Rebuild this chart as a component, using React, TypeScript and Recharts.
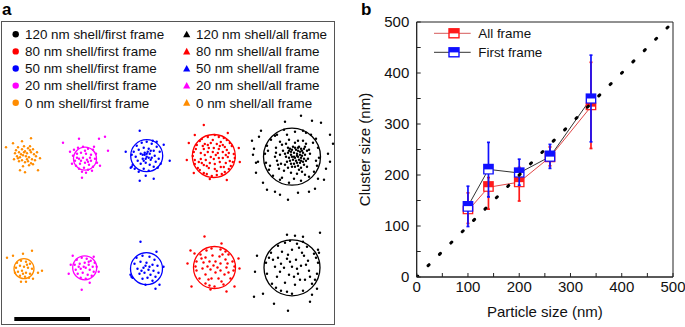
import React from "react";
import {
  ComposedChart,
  ScatterChart,
  Scatter,
  Line,
  XAxis,
  YAxis,
  ErrorBar,
  ReferenceArea,
  ReferenceLine,
  Legend,
} from "recharts";

const FONT = '"Liberation Sans", Arial, Helvetica, sans-serif';

// ---------------- panel b: cluster size vs particle size ----------------
const particleSize = [100, 140, 200, 260, 340];

// All frame (nm)
const allMin = [105, 133, 149, 218, 252];
const allQ1 = [123, 167, 176, 225, 327];
const allMed = [130, 176, 186, 235, 334];
const allQ3 = [140, 188, 196, 245, 342];
const allMax = [165, 195, 215, 255, 421];

// First frame (nm)
const firstMin = [99, 157, 180, 213, 265];
const firstQ1 = [128, 201, 195, 226, 340];
const firstMed = [139, 211, 204, 236, 350];
const firstQ3 = [149, 222, 215, 248, 360];
const firstMax = [178, 264, 231, 260, 435];

// dotted 1:1 guide
const guideX = [0, 500];
const guideY = [0, 500];

const axisTicks = [0, 50, 100, 150, 200, 250, 300, 350, 400, 450, 500];

// ---------------- panel a: localisation clusters ----------------
const legendShells = ["120", "80", "50", "20", "0"];
const legendColors = ["#000000", "#ff0000", "#0000ff", "#ff00ff", "#ff8c00"];

// clusters left to right: 0, 20, 50, 80, 120 nm shell
const clusterColors = ["#ff8c00", "#ff00ff", "#0000ff", "#ff0000", "#000000"];
const allFrameCx = [24, 84, 145.7, 212.8, 291];
const allFrameCy = [134.3, 137.7, 134.7, 135, 135.7];
const allFrameRing = [0, 11.5, 16, 21.5, 28.5];
const firstFrameCx = [23, 83.7, 145.5, 213.5, 291];
const firstFrameCy = [247.7, 246.8, 247.7, 246.5, 246.8];
const firstFrameRing = [10, 12, 16, 21, 28];

const dots0All = [
  [-19, -8], [6, -17], [15, 3], [13, 15], [0, 17], [-5, 15], [-12, -12], [-3, -14], [-9, -5], [-6, -3],
  [-3, -6], [0, -4], [3, -7], [6, -3], [9, -1], [-8, 1], [-5, 2], [-2, 0], [1, 1], [4, 2],
  [7, 4], [10, 5], [-6, 6], [-3, 5], [0, 7], [3, 6], [6, 8], [-10, -2], [-1, -9], [2, -2],
  [5, -5], [-4, -1], [8, -6], [11, 1], [-7, -8], [12, -3], [-11, 4], [4, 10], [-2, 11], [8, 9],
  [-1, -3], [2, 4], [-7, 3], [5, -9],
];
const dots20All = [
  [-22, -16], [-6, -20], [14, -20], [20, -22], [23, -8], [-3, 19], [-15, -7], [15, 7],
  [-11, -9], [-7, -11], [-2, -12], [3, -10], [8, -9], [11, -5], [-12, -3], [-8, -5], [-4, -6], [1, -5],
  [6, -4], [10, 0], [-10, 2], [-6, 0], [-2, -1], [2, 1], [6, 2], [12, 4], [-9, 7], [-5, 5],
  [0, 4], [4, 6], [8, 8], [-6, 10], [-1, 9], [3, 11], [7, 12], [-3, 13], [1, 14], [-13, 5],
  [9, -12], [-4, 2], [0, -8], [5, -1], [-8, -1], [3, 3],
];
const dots50All = [
  [-7, -25], [17, -11], [-21, -4], [23, 5], [-7, 25], [7, 23], [-15, 11], [-14, 9], [-1, 20], [-16, 12],
  [-12, 13], [-10, -10], [-5, -13], [0, -14], [5, -12], [10, -9], [13, -4], [-13, -4], [-8, -6], [-3, -8],
  [2, -7], [7, -5], [-11, 1], [-6, -2], [-2, -3], [3, -2], [8, 0], [12, 3], [-9, 5], [-4, 3],
  [0, 1], [4, 4], [9, 6], [-6, 8], [-1, 7], [3, 9], [7, 11], [-3, 13], [2, 15], [11, 12],
  [-2, -1], [1, -4], [-4, -1], [5, 2], [-1, 3], [14, 8], [-15, -1], [6, -15], [-8, 16], [10, -14],
  [0, -2], [2, 2], [-3, 5], [4, -5],
];
const dots80All = [
  [-10, -31], [14, -23], [25, -8], [26, 6], [13, 24], [-4, 23], [-20, 17], [-27, 4], [-25, -13], [-19, -21],
  [-6, -19], [5, -19], [13, -16], [18, -10], [20, -2], [19, 6], [15, 13], [8, 18], [-2, 20], [-10, 17],
  [-16, 12], [-19, 4], [-20, -4], [-17, -11], [-12, -17], [1, -21], [10, -18], [16, -13], [21, 2], [17, 10],
  [11, 16], [3, 19], [-7, 18], [-14, 14], [-19, 8], [-21, 0], [-18, -7], [-14, -15],
  [-9, -12], [-3, -13], [3, -12], [9, -11], [13, -6], [14, 1], [12, 7], [7, 11], [1, 13], [-5, 12],
  [-10, 9], [-13, 3], [-13, -3], [-10, -7], [-5, -8], [0, -8], [5, -7], [9, -4], [9, 2], [6, 6],
  [1, 8], [-4, 7], [-8, 4], [-9, -1], [-6, -4], [-1, -4], [4, -3], [5, 2], [0, 3], [-3, 1],
  [2, -1], [-11, -10], [11, -9], [15, -3], [10, 11], [-7, 10], [7, -14], [-1, -16], [3, 15], [-15, 6],
  [16, 5], [-6, -11], [12, -1], [-12, 7], [6, -10],
];
const dots120All = [
  [9, -41], [29, -34], [-7, -35], [-40, -16], [41, -13], [36, -3], [-34, 5], [-36, 6], [-36, 16], [-29, 26],
  [-25, 33], [-17, 35], [-4, 43], [17, 35], [26, 22], [32, 23], [23, 32], [-38, -8], [-33, -20], [38, -22],
  [34, 12], [-31, -26], [20, -36], [-12, 38], [6, 36], [38, 5], [-39, -2],
  [-8, -27], [3, -25], [11, -26], [-15, -22], [19, -22], [-21, -17], [24, -18], [-25, -11], [26, -9], [-27, -3],
  [27, 1], [-26, 6], [25, 9], [-23, 13], [22, 15], [-19, 19], [17, 20], [-12, 23], [9, 24], [-3, 26],
  [2, 22], [-17, -21], [14, -24], [-24, -6], [-22, 9], [21, -14], [24, 4], [-10, 21], [13, 18], [-5, -22],
  [-12, -15], [-3, -17], [6, -16], [14, -13], [-16, -9], [17, -7], [-17, 0], [16, 2], [-14, 8], [15, 10],
  [-8, 14], [-1, 16], [7, 13], [-10, -12], [11, -16], [-15, 4], [12, 8], [-6, -13], [3, -14], [-13, 12],
  [10, 15], [-16, -4], [18, -3], [5, 17], [-4, 11], [-11, 7], [13, -10], [-9, -6], [-12, -2], [9, 11],
  [0, -7], [3, -9], [6, -6], [9, -8], [11, -4], [8, -2], [5, -3], [2, -4], [-1, -2], [-4, -4],
  [-6, 0], [-3, 1], [0, 0], [3, 1], [6, 0], [9, 1], [12, 2], [10, -1], [7, 3], [4, 4],
  [1, 3], [-2, 4], [-5, 5], [-1, 7], [2, 7], [5, 6], [8, 6], [11, 5], [13, -2], [7, -10],
  [4, -7], [1, -10], [-2, -8], [-4, -9], [10, -6], [12, -8], [-7, -3], [-3, -6], [6, 9], [3, 10],
  [0, 10], [-7, 8], [14, 4], [15, -6], [8, -5], [5, -1], [2, 0], [-1, -5], [6, -9], [9, 4],
];

const dots0First = [
  [-17, -11], [8, -18], [-1, -15], [18, 2], [14, 4], [-3, 13], [2, 13], [9, 10], [-11, -13],
  [-7, -6], [-3, -8], [2, -7], [6, -5], [-8, -1], [-4, -3], [0, -2], [4, -1], [8, 0], [-6, 3],
  [-2, 2], [2, 4], [6, 5], [-4, 7], [1, 8], [5, 9], [-9, 4], [3, -4], [-1, 5],
];
const dots20First = [
  [-12, -12], [9, -11], [-16, 6], [-3, 22], [14, 4], [12, -1], [-14, -3], [5, 15],
  [-8, -8], [-3, -10], [2, -9], [6, -7], [10, -5], [-10, -3], [-5, -4], [0, -5], [4, -3], [8, -1],
  [-9, 2], [-4, 1], [1, 0], [5, 2], [9, 4], [-7, 6], [-2, 5], [3, 7], [7, 8], [-4, 10],
  [1, 11], [-1, -1], [-6, -1], [4, -6],
];
const dots50First = [
  [-6, -27], [10, -17], [-15, 8], [9, 20], [-1, 16], [17, -2], [-16, 6], [-14, 9], [13, 16],
  [-10, -11], [-4, -13], [3, -12], [8, -9], [-12, -5], [-6, -7], [0, -6], [6, -4], [11, -3], [-9, 0],
  [-3, -1], [2, 1], [7, 2], [12, 4], [-7, 5], [-2, 4], [4, 6], [9, 8], [-4, 10], [1, 9],
  [6, 12], [-1, -3], [3, -2], [-5, 2],
];
const dots80First = [
  [-10, -31], [-24, -17], [7, -24], [24, -9], [25, 1], [20, 19], [12, 24], [-4, 22], [-23, 19], [-27, -4], [-20, -14],
  [-3, -19], [6, -18], [14, -13], [18, -6], [19, 3], [16, 11], [9, 17], [0, 19], [-9, 16], [-15, 11],
  [-18, 3], [-18, -6], [-14, -13], [-8, -17], [11, -16], [20, -1], [-5, 18], [-19, -1],
  [-9, -10], [-2, -12], [5, -11], [11, -8], [12, 0], [10, 7], [4, 11], [-3, 11], [-9, 7], [-12, 1],
  [-11, -5], [-5, -6], [1, -6], [6, -4], [6, 3], [1, 5], [-4, 2], [-1, -2], [3, 0], [-7, -1],
  [8, -13], [-13, -9], [14, 5], [-6, 12], [7, 14], [13, -4],
];
const dots120First = [
  [28, -35], [-35, -12], [-37, 4], [-38, 29], [-29, 26], [-18, 36], [-4, 43], [18, 34], [20, 27], [25, 21],
  [26, -18], [-5, -33], [3, -32], [11, -31], [27, -15],
  [-7, -25], [5, -24], [15, -21], [22, -14], [26, -5], [25, 6], [20, 16], [11, 23], [0, 26], [-11, 23],
  [-20, 16], [-25, 6], [-26, -5], [-21, -15], [-14, -22], [-2, -27], [11, -26], [24, -10], [23, 12], [-5, 24],
  [-23, -10], [-16, 20],
  [-10, -16], [0, -18], [10, -15], [16, -7], [17, 3], [13, 12], [3, 17], [-7, 15], [-15, 9], [-17, -1],
  [-14, -10], [-5, -9], [4, -8], [9, -2], [6, 6], [-3, 7], [-8, 0], [0, -1], [-12, 4], [12, -12],
  [-4, -13], [7, -20], [18, 9], [-19, -8], [8, 12], [-11, -4], [2, 9], [14, -3], [-2, -6], [5, 1],
];

const allFrameDots = [dots0All, dots20All, dots50All, dots80All, dots120All];
const firstFrameDots = [dots0First, dots20First, dots50First, dots80First, dots120First];

// scale bar (panel a units)
const scaleBarX = [13.3, 89];
const scaleBarY = 298;

// ---------------- tables built from the arrays ----------------
const INSET = 2.3; // white part of box stays inside its outline

const boxRows = (mn: number[], q1: number[], md: number[], q3: number[], mx: number[]) =>
  particleSize.map((x, i) => ({
    x,
    y: md[i],
    whisker: [md[i] - mn[i], mx[i] - md[i]],
    box: [md[i] - q1[i], q3[i] - md[i]],
    inner: [md[i] - q1[i] - INSET, 0],
  }));

const allRows = boxRows(allMin, allQ1, allMed, allQ3, allMax);
const firstRows = boxRows(firstMin, firstQ1, firstMed, firstQ3, firstMax);
const allLine = particleSize.map((x, i) => ({ x, y: allMed[i] }));
const firstLine = particleSize.map((x, i) => ({ x, y: firstMed[i] }));
const guide = guideX.map((x, i) => ({ x, y: guideY[i] }));

const clusterRows = (cx: number, cy: number, offs: number[][]) =>
  offs.map(([dx, dy]) => ({ x: cx + dx, y: cy + dy }));

const noShape = () => <g />;

const RED = "#ff1a1a";
const BLUE = "#1010ff";

const boxLayers = (rows: any[], color: string, key: string) => [
  <Scatter key={key + "w"} data={rows} shape={noShape} isAnimationActive={false} legendType="none">
    <ErrorBar dataKey="whisker" direction="y" width={1.5} stroke={color} strokeWidth={1.7} isAnimationActive={false} />
  </Scatter>,
  <Scatter key={key + "b"} data={rows} shape={noShape} isAnimationActive={false} legendType="none">
    <ErrorBar dataKey="box" direction="y" width={0} stroke={color} strokeWidth={10.7} isAnimationActive={false} />
  </Scatter>,
  <Scatter key={key + "i"} data={rows} shape={noShape} isAnimationActive={false} legendType="none">
    <ErrorBar dataKey="inner" direction="y" width={0} stroke="#ffffff" strokeWidth={8} isAnimationActive={false} />
  </Scatter>,
];

const tickFmt = (v: number) => (v % 100 === 0 ? String(v) : "");
const tickStyle = { fontSize: 15, fill: "#111", fontFamily: FONT };

const BoxGlyph = ({ x, y, color }: { x: number; y: number; color: string }) => (
  <g>
    <rect x={x - 5} y={y - 4.5} width={10} height={9} fill="#fff" stroke={color} strokeWidth={1.4} />
    <rect x={x - 5} y={y - 4.5} width={10} height={4.6} fill={color} />
  </g>
);

const legendB = () => (
  <svg width={345} height={70} style={{ overflow: "visible" }}>
    {[
      { name: "All frame", box: RED, line: "#d65a5a", y: 33.3 },
      { name: "First frame", box: BLUE, line: "#333", y: 52.3 },
    ].map((it) => (
      <g key={it.name}>
        <line x1={94} x2={130.7} y1={it.y} y2={it.y} stroke={it.line} strokeWidth={1} />
        <BoxGlyph x={114} y={it.y} color={it.box} />
        <text x={138.3} y={it.y + 4.8} fontSize={13.4} fontFamily={FONT} fill="#111">
          {it.name}
        </text>
      </g>
    ))}
  </svg>
);

const legendA = () => (
  <svg width={334} height={100} style={{ overflow: "visible" }}>
    {legendShells.map((s, i) => {
      const y = 13.3 + i * 17.1;
      const c = legendColors[i];
      return (
        <g key={s}>
          <circle cx={14.7} cy={y} r={3.2} fill={c} />
          <text x={24} y={y + 4.8} fontSize={13.4} fontFamily={FONT} fill="#111">
            {s} nm shell/first frame
          </text>
          <polygon points={`${185.7 - 3.6},${y + 3} ${185.7 + 3.6},${y + 3} ${185.7},${y - 3.6}`} fill={c} />
          <text x={195} y={y + 4.8} fontSize={13.4} fontFamily={FONT} fill="#111">
            {s} nm shell/all frame
          </text>
        </g>
      );
    })}
  </svg>
);

const dotShape = (color: string) => (p: any) => <circle cx={p.cx} cy={p.cy} r={1.2} fill={color} />;
const ringShape = (color: string) => (p: any) => (
  <circle cx={p.cx} cy={p.cy} r={p.payload.r} fill="none" stroke={color} strokeWidth={1.3} />
);

function PanelA() {
  const rows = [
    { cx: allFrameCx, cy: allFrameCy, ring: allFrameRing, dots: allFrameDots, k: "all" },
    { cx: firstFrameCx, cy: firstFrameCy, ring: firstFrameRing, dots: firstFrameDots, k: "first" },
  ];
  return (
    <ScatterChart width={334} height={304} margin={{ top: 0, right: 0, bottom: 0, left: 0 }}>
      <XAxis type="number" dataKey="x" domain={[0, 334]} hide />
      <YAxis type="number" dataKey="y" domain={[0, 304]} reversed hide />
      {rows.map((r) =>
        r.dots.map((offs, i) => (
          <Scatter
            key={r.k + "d" + i}
            data={clusterRows(r.cx[i], r.cy[i], offs)}
            shape={dotShape(clusterColors[i])}
            isAnimationActive={false}
          />
        ))
      )}
      {rows.map((r) =>
        r.ring.map((rad, i) =>
          rad > 0 ? (
            <Scatter
              key={r.k + "r" + i}
              data={[{ x: r.cx[i], y: r.cy[i], r: rad }]}
              shape={ringShape(clusterColors[i])}
              isAnimationActive={false}
            />
          ) : null
        )
      )}
      <ReferenceLine
        segment={[
          { x: scaleBarX[0], y: scaleBarY },
          { x: scaleBarX[1], y: scaleBarY },
        ]}
        stroke="#000"
        strokeWidth={4}
      />
      <Legend
        layout="vertical"
        align="center"
        verticalAlign="middle"
        content={legendA}
        wrapperStyle={{ left: 0, top: 0, width: 334, height: 100 }}
      />
    </ScatterChart>
  );
}

function PanelB() {
  return (
    <ComposedChart width={345} height={327} margin={{ top: 22, right: 12, bottom: 0, left: 0 }}>
      <XAxis
        type="number"
        dataKey="x"
        domain={[0, 500]}
        ticks={axisTicks}
        interval={0}
        tickFormatter={tickFmt}
        tickSize={-4}
        tickMargin={8.7}
        stroke="#222"
        tick={tickStyle}
        height={50}
        allowDataOverflow
        label={{
          value: "Particle size (nm)",
          position: "insideBottom",
          offset: 10,
          style: { fontSize: 15, fill: "#111", fontFamily: FONT },
        }}
      />
      <YAxis
        type="number"
        dataKey="y"
        domain={[0, 500]}
        ticks={axisTicks}
        interval={0}
        tickFormatter={tickFmt}
        tickSize={-4}
        tickMargin={11.4}
        stroke="#222"
        tick={tickStyle}
        width={76.7}
        allowDataOverflow
        label={{
          value: "Cluster size (nm)",
          angle: -90,
          position: "insideLeft",
          offset: 24.5,
          style: { fontSize: 15, fill: "#111", fontFamily: FONT, textAnchor: "middle" },
        }}
      />
      <ReferenceArea x1={0} x2={500} y1={0} y2={500} fill="none" stroke="#222" strokeWidth={1} />
      <Line data={allLine} dataKey="y" stroke="#e04848" strokeWidth={1} dot={false} activeDot={false} isAnimationActive={false} legendType="none" />
      <Line data={firstLine} dataKey="y" stroke="#333" strokeWidth={1} dot={false} activeDot={false} isAnimationActive={false} legendType="none" />
      {boxLayers(allRows, RED, "all")}
      {boxLayers(firstRows, BLUE, "first")}
      <Line
        data={guide}
        dataKey="y"
        stroke="#000"
        strokeWidth={3}
        strokeDasharray="1.4 14.65"
        strokeLinecap="round"
        dot={false}
        activeDot={false}
        isAnimationActive={false}
        legendType="none"
      />
      <Legend
        layout="vertical"
        align="center"
        verticalAlign="middle"
        content={legendB}
        wrapperStyle={{ left: 0, top: 0, width: 345, height: 70 }}
      />
    </ComposedChart>
  );
}

export default function App() {
  return (
    <div style={{ position: "absolute", left: 0, top: 0, width: 685, height: 327, background: "#fff", fontFamily: FONT }}>
      <svg width={685} height={327} style={{ position: "absolute", left: 0, top: 0 }}>
        <text x={2} y={14.5} fontSize={17} fontWeight="bold" fontFamily={FONT} fill="#000">a</text>
        <text x={361} y={15} fontSize={17} fontWeight="bold" fontFamily={FONT} fill="#000">b</text>
      </svg>
      <div
        style={{
          position: "absolute",
          left: 1,
          top: 21,
          width: 334,
          height: 304,
          boxSizing: "border-box",
          border: "1.2px solid #555",
        }}
      />
      <div style={{ position: "absolute", left: 1, top: 21 }}>
        <PanelA />
      </div>
      <div style={{ position: "absolute", left: 340, top: 0 }}>
        <PanelB />
      </div>
    </div>
  );
}
